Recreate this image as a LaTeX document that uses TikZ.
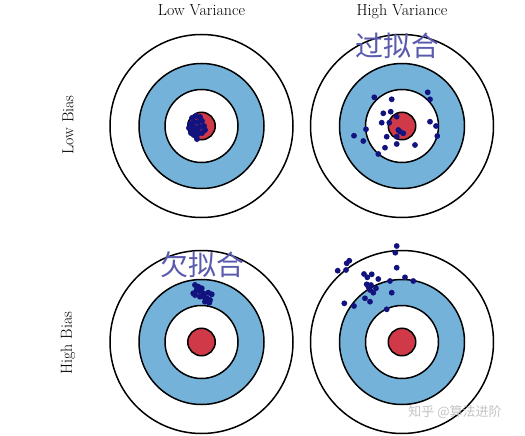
\documentclass[tikz,border=0pt]{standalone}
\usepackage{fontspec}
\newfontfamily\cjk{Noto Sans CJK SC}
\definecolor{ringblue}{HTML}{74B2DA}
\definecolor{bullred}{HTML}{D03A48}
\definecolor{dotnavy}{HTML}{13137F}
\definecolor{cnpurple}{HTML}{5A5AAE}
\definecolor{wmgray}{HTML}{C4C4C4}
\tikzset{
  ringline/.style={draw=black, line width=1.5pt},
  lbl/.style={font=\fontsize{16}{18}\selectfont, inner sep=0pt},
  cnlbl/.style={font=\cjk\fontsize{28}{30}\selectfont, text=cnpurple, inner sep=0pt},
  dotmark/.style={fill=dotnavy, draw=none},
}
\newcommand{\target}[3]{%
  \node[circle, ringline, fill=white, minimum size=183pt, inner sep=0pt] (#3o) at (#1,#2) {};
  \node[circle, ringline, fill=ringblue, minimum size=125pt, inner sep=0pt] (#3b) at (#1,#2) {};
  \node[circle, ringline, fill=white, minimum size=73pt, inner sep=0pt] (#3w) at (#1,#2) {};
  \node[circle, ringline, fill=bullred, minimum size=27.5pt, inner sep=0pt] (#3r) at (#1,#2) {};
}
\begin{document}
\begin{tikzpicture}[x=1pt,y=-1pt]
\useasboundingbox (0,0) rectangle (525,436);
\fill[white] (0,0) rectangle (525,436);

\target{201.5}{126}{tl}
\target{402}{126}{tr}
\target{201.5}{342}{bl}
\target{402}{342}{br}

\node[lbl, anchor=base] (lv) at (201.5,15.5) {Low Variance};
\node[lbl, anchor=base] (hv) at (402,15.5) {High Variance};
\node[lbl, rotate=90] (lb) at (68,125) {Low Bias};
\node[lbl, rotate=90] (hb) at (68,343) {High Bias};

% top-left cluster
\foreach \p in {(192,118),(196,116),(200,117),(190,124),(194,122),(198,122),(202,121),(192,130),(196,128),(200,127),(204,126),(194,135),(198,134),(202,133),(197,139),(191,133),(189,128),(205,130),(193,126),(197,131)}
  {\fill[dotmark] \p circle (3pt);}

% top-right scatter
\foreach \p in {(374.3,97.3),(391.7,99.3),(427.7,92.3),(430,99.3),(383.3,113.3),(390.7,111.7),(396.7,116.7),(381.7,122.7),(389.3,122.7),(366,129.3),(398.3,130),(403.3,133.3),(396.7,136.7),(386.7,136.7),(430,121.7),(436,126),(437.3,136),(354,135.7),(363.3,141),(396.7,144),(415,145),(385,147.7),(378.3,154),(400,131.7)}
  {\fill[dotmark] \p circle (2.9pt);}

% bottom-left cluster
\foreach \p in {(195,285),(196.7,290),(193.3,293.3),(201.7,288.3),(203.3,293.3),(208.3,292.7),(211.7,294.3),(206.7,298.3),(210,300),(205,301.7),(200,296.7),(195,295),(198.3,286.7),(209.3,302.7),(199,291),(204,297)}
  {\fill[dotmark] \p circle (3pt);}

% bottom-right scatter
\foreach \p in {(396.7,246),(395.3,252.7),(349.3,260.7),(346.7,263.3),(337.7,270.7),(346,270),(396.7,267.7),(364,274),(371.7,274.3),(367.3,277.3),(378.3,279),(390,281),(405,277.3),(413.3,281),(366.7,284.3),(371,285),(376,288.3),(370,290),(373.3,292.7),(391.7,292.7),(365,298.3),(370,301.7),(344.3,303.3),(354,306),(386.7,309.3),(368.3,286.7)}
  {\fill[dotmark] \p circle (2.9pt);}

\node[cnlbl] (over) at (397,46) {过拟合};
\node[cnlbl] (under) at (202,265) {欠拟合};
\node[font=\cjk\fontsize{13}{15}\selectfont, text=wmgray, inner sep=0pt] (wm) at (455,412) {知乎 @算法进阶};
\end{tikzpicture}
\end{document}
